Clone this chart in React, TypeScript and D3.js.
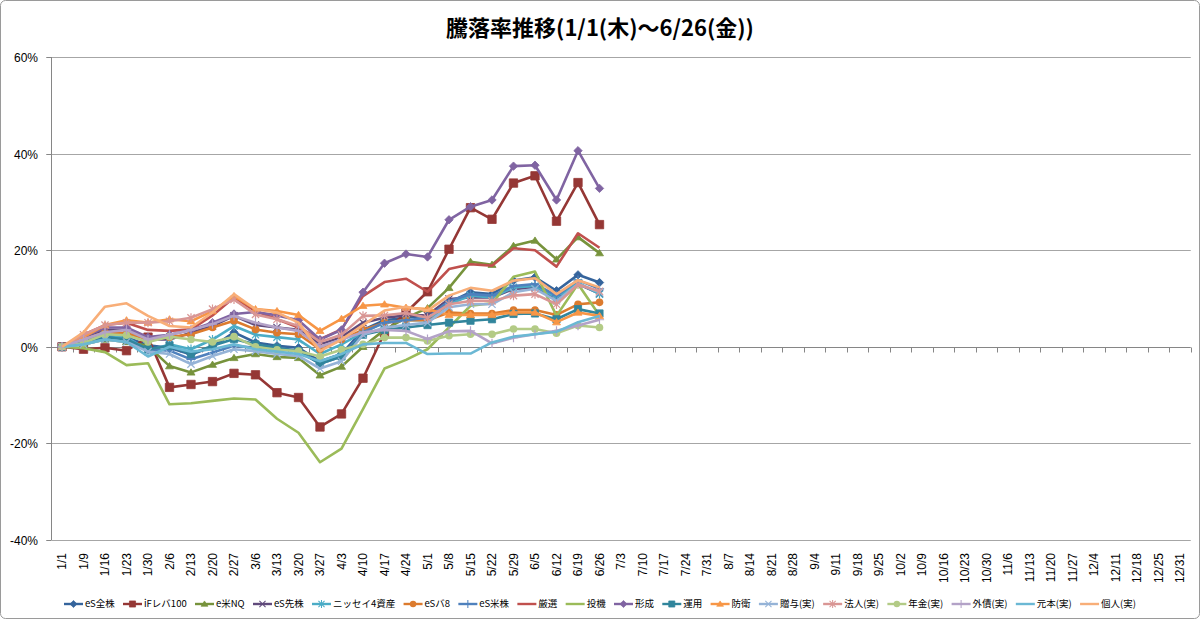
import { useEffect, useRef } from 'react';
import * as d3 from 'd3';

// 週ごとのカテゴリ（1/1〜12/31）
const dates = [
  '1/1', '1/9', '1/16', '1/23', '1/30', '2/6', '2/13', '2/20', '2/27', '3/6', '3/13', '3/20', '3/27',
  '4/3', '4/10', '4/17', '4/24', '5/1', '5/8', '5/15', '5/22', '5/29', '6/5', '6/12', '6/19', '6/26',
  '7/3', '7/10', '7/17', '7/24', '7/31', '8/7', '8/14', '8/21', '8/28', '9/4', '9/11', '9/18', '9/25',
  '10/2', '10/9', '10/16', '10/23', '10/30', '11/6', '11/13', '11/20', '11/27', '12/4', '12/11',
  '12/18', '12/25', '12/31',
];
const yTicks = [-40, -20, 0, 20, 40, 60];

// 騰落率 (%)
const esZenkabu = [0, 1.0, 2.5, 2.0, 0.3, -0.2, -1.6, 0.0, 3.0, 0.9, 0.2, -0.2, -3.0, -1.5, 3.5, 5.5, 6.0, 6.5, 9.2, 11.3, 10.9, 13.7, 14.4, 11.6, 14.9, 13.3];
const ifLev100 = [0, -0.5, -0.2, -0.8, 2.0, -8.4, -7.8, -7.2, -5.5, -5.8, -9.5, -10.5, -16.6, -13.9, -6.5, 2.9, 7.1, 11.4, 20.2, 28.8, 26.4, 33.9, 35.4, 26.0, 34.0, 25.3];
const eBeiNQ = [0, 0.5, 1.5, 1.0, 0.2, -4.0, -5.3, -3.7, -2.3, -1.5, -2.1, -2.3, -5.9, -4.1, 0.0, 3.5, 6.0, 8.0, 12.2, 17.6, 17.0, 20.9, 22.0, 18.1, 22.7, 19.4];
const esSenkabu = [0, 2.0, 3.5, 3.5, 1.5, 1.5, 2.9, 4.3, 6.4, 4.5, 4.0, 3.5, 0.5, 2.0, 5.0, 6.0, 6.5, 6.5, 9.9, 10.2, 10.2, 12.0, 12.3, 9.9, 13.0, 11.0];
const nissei4 = [0, 1.5, 2.5, 2.0, -0.8, 0.5, -0.5, 1.5, 4.3, 2.5, 2.0, 1.5, -1.5, 0.5, 3.0, 5.0, 5.5, 5.5, 8.8, 10.6, 10.2, 12.3, 12.6, 10.2, 13.3, 10.9];
const esBa8 = [0, 1.5, 3.0, 2.8, 1.5, 2.0, 2.6, 4.0, 5.4, 3.6, 2.9, 2.6, -0.5, 1.5, 3.5, 5.0, 5.5, 5.5, 7.1, 6.9, 6.9, 7.6, 7.6, 6.6, 8.8, 9.2];
const esBeikabu = [0, 1.0, 2.0, 1.5, -0.5, -0.8, -2.6, -1.2, 0.2, -0.2, -0.2, -0.9, -3.5, -2.0, 3.0, 5.0, 5.5, 6.0, 9.5, 10.9, 10.6, 12.6, 13.0, 10.6, 13.8, 12.0];
const gensen = [0, 2.5, 4.5, 5.0, 3.5, 3.3, 3.6, 6.5, 10.2, 7.4, 5.7, 4.0, 1.6, 3.6, 10.5, 13.4, 14.1, 11.4, 16.1, 17.1, 16.8, 20.4, 20.0, 16.6, 23.5, 20.5];
const touki = [0, -0.3, -1.1, -3.8, -3.4, -11.9, -11.7, -11.2, -10.7, -10.9, -14.9, -17.8, -23.9, -21.1, -12.9, -4.5, -2.7, -0.5, 4.0, 8.5, 9.0, 14.5, 15.6, 6.4, 13.0, 6.5];
const keisei = [0, 2.0, 4.0, 4.0, 2.0, 2.5, 3.5, 5.0, 6.8, 7.2, 6.5, 5.5, 1.5, 3.5, 11.3, 17.3, 19.2, 18.6, 26.3, 29.0, 30.4, 37.4, 37.6, 30.4, 40.6, 32.8];
const unyou = [0, 1.0, 2.0, 1.5, -0.5, 0.2, -1.5, 0.2, 1.6, 0.5, -0.2, -0.9, -3.5, -2.0, 2.5, 3.5, 4.0, 4.5, 5.0, 5.4, 5.7, 6.8, 6.9, 5.7, 7.8, 6.9];
const bouei = [0, 2.0, 4.5, 5.5, 5.0, 5.7, 5.3, 7.4, 10.5, 7.8, 7.4, 6.6, 3.3, 5.8, 8.5, 8.8, 8.1, 7.8, 6.6, 6.6, 6.6, 7.1, 7.1, 5.1, 7.1, 6.4];
const zouyo = [0, 0.5, 1.5, 1.0, -1.0, -1.5, -3.6, -1.9, -0.5, -0.9, -1.5, -1.9, -4.5, -3.0, 2.5, 4.0, 4.5, 5.0, 8.2, 8.8, 8.8, 11.3, 12.0, 9.5, 13.0, 11.3];
const houjin = [0, 2.5, 4.5, 5.0, 5.0, 5.3, 6.0, 7.8, 9.8, 6.7, 5.7, 4.3, 1.0, 2.5, 6.4, 6.5, 7.0, 6.0, 8.8, 9.5, 9.5, 10.6, 10.9, 8.8, 12.9, 11.5];
const nenkin = [0, 0.8, 2.6, 2.4, 1.0, 2.1, 1.5, 1.0, 2.1, 0.0, -0.6, -0.9, -2.0, -0.6, 0.5, 1.9, 1.9, 1.2, 2.3, 2.6, 2.6, 3.7, 3.7, 2.8, 4.4, 4.0];
const gaisai = [0, 1.5, 3.0, 3.5, 1.5, 2.5, 3.5, 4.7, 6.4, 5.0, 4.0, 3.3, 0.0, 1.5, 3.0, 3.5, 3.3, 1.6, 3.2, 3.3, 0.7, 1.9, 2.6, 3.3, 4.4, 5.6];
const ganpon = [0, 0.5, 1.5, 1.0, -2.0, 0.0, -1.0, -0.5, 0.5, -0.5, -1.0, -1.5, -3.0, -1.5, 0.5, 0.8, 0.8, -1.5, -1.4, -1.4, 0.9, 2.1, 2.6, 3.1, 5.1, 6.4];
const kojin = [0, 3.0, 8.3, 9.0, 6.4, 4.3, 4.0, 7.1, 10.9, 7.8, 7.1, 5.0, -0.9, 1.5, 4.5, 7.5, 8.3, 7.5, 10.6, 12.2, 11.6, 13.7, 14.2, 10.9, 13.8, 12.3];

const seriesNames = [
  'eS全株', 'iFレバ100', 'e米NQ', 'eS先株', 'ニッセイ4資産', 'eSバ8', 'eS米株', '厳選', '投機',
  '形成', '運用', '防衛', '贈与(実)', '法人(実)', '年金(実)', '外債(実)', '元本(実)', '個人(実)',
];
const seriesValues = [
  esZenkabu, ifLev100, eBeiNQ, esSenkabu, nissei4, esBa8, esBeikabu, gensen, touki,
  keisei, unyou, bouei, zouyo, houjin, nenkin, gaisai, ganpon, kojin,
];

// 見た目
const seriesColors = [
  '#35649c', '#953735', '#77933c', '#604a7b', '#4bacc6', '#dc7b2e', '#4f81bd', '#c0504d', '#9bbb59',
  '#8064a2', '#31859c', '#f79646', '#95b3d7', '#d99694', '#b3cb86', '#b3a2c7', '#6bb8d4', '#f8ae78',
];
const seriesMarkers = [
  'diamond', 'square', 'triangle', 'x', 'star', 'circle', 'plus', 'none', 'none',
  'diamond', 'square', 'triangle', 'x', 'star', 'circle', 'plus', 'none', 'none',
];

const W = 1200;
const H = 620;
const FONT = "'Liberation Sans', Arial, sans-serif";
const JFONT = "'Noto Sans CJK JP', 'Noto Sans', sans-serif";

function markerPath(type: string, big: boolean) {
  const s = big ? 4.2 : 3.6;
  switch (type) {
    case 'diamond':
      return `M0,${-s - 0.6}L${s + 0.6},0L0,${s + 0.6}L${-s - 0.6},0Z`;
    case 'square':
      return `M${-s},${-s}H${s}V${s}H${-s}Z`;
    case 'triangle':
      return `M0,${-s}L${s + 0.4},${s * 0.75}L${-s - 0.4},${s * 0.75}Z`;
    case 'x':
      return `M${-s},${-s}L${s},${s}M${-s},${s}L${s},${-s}`;
    case 'star':
      return `M${-s},${-s}L${s},${s}M${-s},${s}L${s},${-s}M0,${-s - 1}L0,${s + 1}`;
    case 'plus':
      return `M${-s - 1},0H${s + 1}M0,${-s - 1}V${s + 1}`;
    default:
      return '';
  }
}

export default function App() {
  const svgRef = useRef<SVGSVGElement>(null);

  useEffect(() => {
    document.body.style.margin = '0';
    if (!svgRef.current) return;
    const svg = d3.select(svgRef.current);
    svg.selectAll('*').remove();

    const plotLeft = 51.25;
    const plotRight = 1190.75;
    const plotTop = 57;
    const plotBottom = 540;

    const x = d3.scalePoint<string>().domain(dates).range([plotLeft, plotRight]).padding(0.5);
    const y = d3.scaleLinear().domain([-40, 60]).range([plotBottom, plotTop]);
    const step = x.step();

    // chart border
    svg
      .append('rect')
      .attr('x', 0.5)
      .attr('y', 0.5)
      .attr('width', W - 1)
      .attr('height', H - 2)
      .attr('rx', 5)
      .attr('fill', '#fff')
      .attr('stroke', '#9a9a9a');

    // title
    svg
      .append('text')
      .attr('x', 600)
      .attr('y', 36)
      .attr('text-anchor', 'middle')
      .attr('font-family', JFONT)
      .attr('font-size', '22px')
      .attr('font-weight', 'bold')
      .attr('fill', '#000')
      .text('騰落率推移(1/1(木)～6/26(金))');

    // --- grid lines ---
    yTicks.forEach((t) => {
      if (t === 0) return;
      svg
        .append('line')
        .attr('x1', plotLeft)
        .attr('x2', plotRight)
        .attr('y1', Math.round(y(t)) + 0.5)
        .attr('y2', Math.round(y(t)) + 0.5)
        .attr('stroke', '#a6a6a6')
        .attr('stroke-width', 1);
    });

    // y axis
    svg
      .append('line')
      .attr('x1', Math.round(plotLeft) + 0.5)
      .attr('x2', Math.round(plotLeft) + 0.5)
      .attr('y1', plotTop)
      .attr('y2', plotBottom)
      .attr('stroke', '#868686');
    yTicks.forEach((t) => {
      const yy = Math.round(y(t)) + 0.5;
      svg
        .append('line')
        .attr('x1', plotLeft - 5)
        .attr('x2', plotLeft)
        .attr('y1', yy)
        .attr('y2', yy)
        .attr('stroke', '#868686');
      svg
        .append('text')
        .attr('x', 38)
        .attr('y', yy)
        .attr('dy', '0.35em')
        .attr('text-anchor', 'end')
        .attr('font-family', FONT)
        .attr('font-size', '12px')
        .attr('fill', '#000')
        .text(`${t}%`);
    });

    // category axis at 0%
    const y0 = Math.round(y(0)) + 0.5;
    svg
      .append('line')
      .attr('x1', plotLeft)
      .attr('x2', plotRight)
      .attr('y1', y0)
      .attr('y2', y0)
      .attr('stroke', '#868686');
    d3.range(dates.length + 1).forEach((k) => {
      const xx = Math.round(plotLeft + k * step) + 0.5;
      svg
        .append('line')
        .attr('x1', xx)
        .attr('x2', xx)
        .attr('y1', y0)
        .attr('y2', y0 + 5)
        .attr('stroke', '#868686');
    });

    // category labels (rotated, below plot)
    dates.forEach((d) => {
      const xx = x(d) ?? 0;
      svg
        .append('text')
        .attr('transform', `translate(${xx + 4},553) rotate(-90)`)
        .attr('text-anchor', 'end')
        .attr('font-family', FONT)
        .attr('font-size', '12px')
        .attr('fill', '#000')
        .text(d);
    });

    // --- series ---
    const line = d3
      .line<number>()
      .x((_, i) => x(dates[i]) ?? 0)
      .y((v) => y(v));

    seriesValues.forEach((vals, si) => {
      const color = seriesColors[si];
      const g = svg.append('g');
      g.append('path')
        .datum(vals)
        .attr('d', line)
        .attr('fill', 'none')
        .attr('stroke', color)
        .attr('stroke-width', 2.6)
        .attr('stroke-linejoin', 'round');

      const m = seriesMarkers[si];
      if (m === 'none') return;
      const big = si === 1;
      vals.forEach((v, i) => {
        const cx = x(dates[i]) ?? 0;
        const cy = y(v);
        if (m === 'circle') {
          g.append('circle').attr('cx', cx).attr('cy', cy).attr('r', 3.8).attr('fill', color);
        } else {
          const stroked = m === 'x' || m === 'star' || m === 'plus';
          g.append('path')
            .attr('transform', `translate(${cx},${cy})`)
            .attr('d', markerPath(m, big))
            .attr('fill', stroked ? 'none' : color)
            .attr('stroke', color)
            .attr('stroke-width', stroked ? 1.2 : 0.8);
        }
      });
    });

    // --- legend ---
    const legendY = 604;
    const lineLen = 19;
    const legendFont = 9.5;
    const measure = svg
      .append('text')
      .attr('font-family', JFONT)
      .attr('font-size', `${legendFont}px`);
    const widths = seriesNames.map((n) => {
      measure.text(n);
      return (measure.node() as SVGTextElement).getComputedTextLength();
    });
    measure.remove();
    const legendStart = 64;
    const legendEnd = 1136;
    const used = widths.reduce((a, w) => a + lineLen + 2 + w, 0);
    const gap = (legendEnd - legendStart - used) / (seriesNames.length - 1);

    let lx = legendStart;
    seriesNames.forEach((name, si) => {
      const color = seriesColors[si];
      const lg = svg.append('g').attr('transform', `translate(${lx},${legendY})`);
      lg.append('line')
        .attr('x1', 0)
        .attr('x2', lineLen)
        .attr('y1', 0)
        .attr('y2', 0)
        .attr('stroke', color)
        .attr('stroke-width', 2.4);
      const m = seriesMarkers[si];
      if (m === 'circle') {
        lg.append('circle').attr('cx', lineLen / 2).attr('cy', 0).attr('r', 3.2).attr('fill', color);
      } else if (m !== 'none') {
        const stroked = m === 'x' || m === 'star' || m === 'plus';
        lg.append('path')
          .attr('transform', `translate(${lineLen / 2},0) scale(0.85)`)
          .attr('d', markerPath(m, false))
          .attr('fill', stroked ? 'none' : color)
          .attr('stroke', color)
          .attr('stroke-width', stroked ? 1.2 : 0.8);
      }
      lg.append('text')
        .attr('x', lineLen + 2)
        .attr('y', 0)
        .attr('dy', '0.35em')
        .attr('font-family', JFONT)
        .attr('font-size', `${legendFont}px`)
        .attr('fill', '#000')
        .text(name);
      lx += lineLen + 2 + widths[si] + gap;
    });
  }, []);

  return <svg ref={svgRef} width={W} height={H} style={{ display: 'block' }} />;
}
